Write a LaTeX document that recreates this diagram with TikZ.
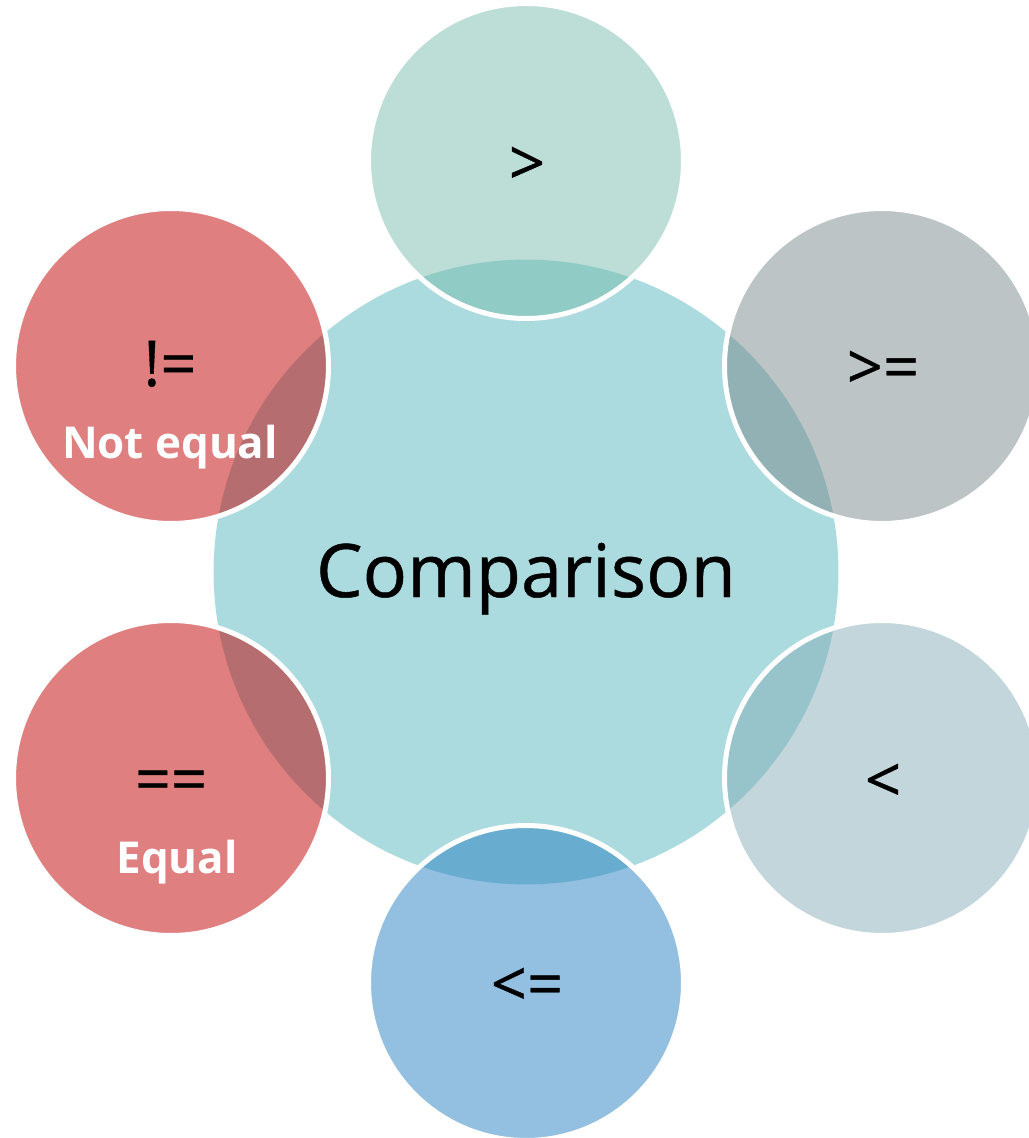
\documentclass[tikz,border=0pt]{standalone}
\usepackage{fontspec}
\setmainfont{Open Sans}
\newfontfamily\heavyfont[FakeBold=0.6]{Open Sans}

\definecolor{hubfill}{RGB}{171,219,223}
\definecolor{gtfill}{RGB}{121,189,173}
\definecolor{gefill}{RGB}{121,137,139}
\definecolor{ltfill}{RGB}{133,173,183}
\definecolor{lefill}{RGB}{39,129,193}
\definecolor{eqfill}{RGB}{191,0,0}

\tikzset{
  hubcirc/.style={circle, minimum size=12.5cm, inner sep=0pt},
  petal/.style={circle, minimum size=6.3cm, inner sep=0pt, fill opacity=0.5, draw=white, line width=0.1cm},
  symtext/.style={font=\heavyfont\fontsize{36}{40}\selectfont},
  wordtext/.style={font=\bfseries\fontsize{25}{30}\selectfont, text=white, anchor=base}
}

\begin{document}
\begin{tikzpicture}[x=0.02cm,y=-0.02cm]
\useasboundingbox (0,0) rectangle (1028,1138);

% centre circle
\node[hubcirc, fill=hubfill] (hub) at (526,572) {};

% the six operators round it
\node[petal, fill=gtfill] (gt) at (526,161) {};
\node[petal, fill=gefill] (ge) at (882,366) {};
\node[petal, fill=ltfill] (lt) at (882,778) {};
\node[petal, fill=lefill] (le) at (526,983) {};
\node[petal, fill=eqfill] (eq) at (171,778) {};
\node[petal, fill=eqfill] (ne) at (171,366) {};

% texts
\node[anchor=base, font=\heavyfont\fontsize{42}{48}\selectfont] (hubtext) at (526,597) {Comparison};
\node[symtext] (gtsym) at (527,166) {>};
\node[symtext] (gesym) at (883,370) {>=};
\node[symtext] (ltsym) at (883,783) {<};
\node[symtext] (lesym) at (527,987) {<=};
\node[symtext] (eqsym) at (171,786) {==};
\node[symtext, anchor=base] (nesym) at (170,386) {!=};
\node[wordtext] (netext) at (170,458) {Not equal};
\node[wordtext] (eqtext) at (177,873) {Equal};
\end{tikzpicture}
\end{document}
